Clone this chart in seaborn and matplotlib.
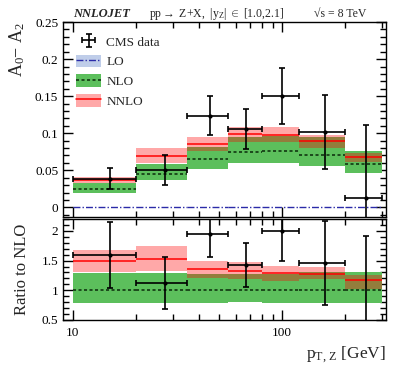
import numpy as np
import matplotlib
matplotlib.use("Agg")
import matplotlib.pyplot as plt
import seaborn as sns
from matplotlib.patches import Patch
from matplotlib.lines import Line2D
from matplotlib.ticker import MultipleLocator, FixedLocator, NullFormatter, FuncFormatter

# Data
bin_edges = [10, 20, 35, 55, 80, 120, 200, 300]
data_x = [15, 27.5, 45, 67.5, 100, 160, 250]

cms_y = [0.0386, 0.0508, 0.1238, 0.106, 0.150, 0.102, 0.012]
cms_err = [0.014, 0.020, 0.026, 0.027, 0.038, 0.050, 0.099]

lo_y = [0, 0, 0, 0, 0, 0, 0]

nlo_y = [0.0247, 0.0454, 0.0649, 0.0743, 0.076, 0.0707, 0.0585]
nlo_lo = [0.0198, 0.0369, 0.0514, 0.060, 0.060, 0.0558, 0.046]
nlo_hi = [0.0324, 0.058, 0.081, 0.0946, 0.0968, 0.0946, 0.076]

nnlo_y = [0.037, 0.0697, 0.085, 0.0986, 0.098, 0.0896, 0.0676]
nnlo_lo = [0.033, 0.060, 0.076, 0.0887, 0.0883, 0.0797, 0.0617]
nnlo_hi = [0.0414, 0.0797, 0.0954, 0.109, 0.108, 0.0977, 0.073]

# ratio panel
ratio_cms_y = [1.595, 1.122, 1.955, 1.428, 1.99, 1.46, 0.207]
ratio_cms_err = [0.56, 0.44, 0.40, 0.37, 0.50, 0.71, 1.70]
ratio_nlo_y = [1, 1, 1, 1, 1, 1, 1]
ratio_nlo_lo = [0.79, 0.79, 0.79, 0.805, 0.79, 0.78, 0.78]
ratio_nlo_hi = [1.295, 1.29, 1.28, 1.267, 1.28, 1.31, 1.31]
ratio_nnlo_y = [1.5, 1.533, 1.35, 1.333, 1.29, 1.267, 1.167]
ratio_nnlo_lo = [1.30, 1.32, 1.205, 1.195, 1.15, 1.195, 1.03]
ratio_nnlo_hi = [1.683, 1.75, 1.5, 1.47, 1.417, 1.395, 1.26]

sns.set_theme(style="ticks")
plt.rcParams["font.family"] = ["Liberation Serif", "DejaVu Serif"]
plt.rcParams["mathtext.fontset"] = "custom"
plt.rcParams["mathtext.rm"] = "Liberation Serif"
plt.rcParams["mathtext.it"] = "Liberation Serif:italic"
plt.rcParams["mathtext.bf"] = "Liberation Serif:bold"
plt.rcParams["axes.linewidth"] = 1.0

green = "#5cbf5c"
pink_alpha = 0.34
lo_blue = "#2b2ba8"

fig = plt.figure(figsize=(4.07, 3.65), dpi=100)
ax1 = fig.add_axes([0.155, 0.4055, 0.793, 0.534])
ax2 = fig.add_axes([0.155, 0.1233, 0.793, 0.2767])

edges = np.array(bin_edges)
left, right = edges[:-1], edges[1:]
widths = right - left
xerr = [np.array(data_x) - left, right - np.array(data_x)]


def draw_panel(ax, lo, c_nlo, nlo_l, nlo_h, c_nnlo, nnlo_l, nnlo_h, dy, derr):
    ax.bar(left, np.array(nlo_h) - np.array(nlo_l), bottom=nlo_l, width=widths,
           align="edge", color=green, linewidth=0, zorder=1)
    ax.bar(left, np.array(nnlo_h) - np.array(nnlo_l), bottom=nnlo_l, width=widths,
           align="edge", color="red", alpha=pink_alpha, linewidth=0, zorder=2)
    if lo is not None:
        ax.hlines(lo, left, right, colors=lo_blue, linestyles=(0, (5, 1.5, 1, 1.5)),
                  lw=1.0, zorder=3)
    ax.hlines(c_nlo, left, right, colors="#0a2a0a", linestyles=(0, (2, 1.6)),
              lw=1.1, zorder=3)
    ax.hlines(c_nnlo, left, right, colors="red", lw=1.1, zorder=3)
    eb = ax.errorbar(data_x, dy, yerr=derr, xerr=xerr, fmt="none", ecolor="black",
                     elinewidth=1.2, capsize=2, capthick=1.2, zorder=5)
    sns.scatterplot(x=data_x, y=dy, ax=ax, color="black", s=9, linewidth=0, zorder=6)
    return eb


eb = draw_panel(ax1, lo_y, nlo_y, nlo_lo, nlo_hi, nnlo_y, nnlo_lo, nnlo_hi, cms_y, cms_err)
draw_panel(ax2, None, ratio_nlo_y, ratio_nlo_lo, ratio_nlo_hi,
           ratio_nnlo_y, ratio_nnlo_lo, ratio_nnlo_hi, ratio_cms_y, ratio_cms_err)

fmt = FuncFormatter(lambda v, p: f"{v:g}")
for ax in (ax1, ax2):
    ax.set_xscale("log")
    ax.set_xlim(9, 312)
    ax.xaxis.set_major_locator(FixedLocator([10, 100]))
    ax.xaxis.set_minor_locator(FixedLocator([20, 30, 40, 50, 60, 70, 80, 90, 200, 300]))
    ax.xaxis.set_minor_formatter(NullFormatter())
    ax.tick_params(which="both", direction="in", top=True, right=True,
                   labelsize=9.5, width=1.0, colors="black")
    ax.tick_params(which="major", length=7)
    ax.tick_params(which="minor", length=4)
    ax.yaxis.set_major_formatter(fmt)
    for s in ax.spines.values():
        s.set_color("black")

ax1.set_ylim(-0.013, 0.25)
ax1.yaxis.set_major_locator(MultipleLocator(0.05))
ax1.yaxis.set_minor_locator(MultipleLocator(0.01))
ax1.xaxis.set_major_formatter(NullFormatter())

ax2.set_ylim(0.5, 2.2)
ax2.yaxis.set_major_locator(MultipleLocator(0.5))
ax2.yaxis.set_minor_locator(MultipleLocator(0.1))
ax2.xaxis.set_major_formatter(FuncFormatter(lambda v, p: f"{v:g}"))
ax2.tick_params(axis="x", pad=5)

ax1.set_ylabel(r"A$_0$$-$ A$_2$", fontsize=13, loc="top", labelpad=6)
ax2.set_ylabel("Ratio to NLO", fontsize=12, loc="center", labelpad=8)
ax2.set_xlabel(r"p$_{\mathrm{T,\,Z}}$ [GeV]", fontsize=12.5, loc="right", labelpad=4)

# header texts
fig.text(0.18, 0.963, "NNLOJET", fontsize=9, fontweight="bold", fontstyle="italic",
         ha="left", va="center")
fig.text(0.533, 0.963, r"pp$\rightarrow$ Z+X,  |y$_{\mathrm{Z}}$| $\in$ [1.0,2.1]",
         fontsize=8.5, ha="center", va="center")
fig.text(0.835, 0.963, "√s = 8 TeV", fontsize=8.5, ha="center", va="center")

# legend
h_lo = (Patch(facecolor="#bfcde9", edgecolor="none"),
        Line2D([], [], color=lo_blue, lw=1.0, linestyle=(0, (5, 1.5, 1, 1.5))))
h_nlo = (Patch(facecolor=green, edgecolor="none"),
         Line2D([], [], color="#0a2a0a", lw=1.1, linestyle=(0, (2, 1.6))))
h_nnlo = (Patch(facecolor="red", alpha=pink_alpha, edgecolor="none"),
          Line2D([], [], color="red", lw=1.1))
ax1.legend([eb, h_lo, h_nlo, h_nnlo], ["CMS data", "LO", "NLO", "NNLO"],
           loc="upper left", bbox_to_anchor=(0.04, 0.935), frameon=False,
           fontsize=9.5, handlelength=1.9, handleheight=1.1, labelspacing=0.45,
           handletextpad=0.4, borderpad=0, borderaxespad=0)

fig.savefig("out.png", dpi=100)
